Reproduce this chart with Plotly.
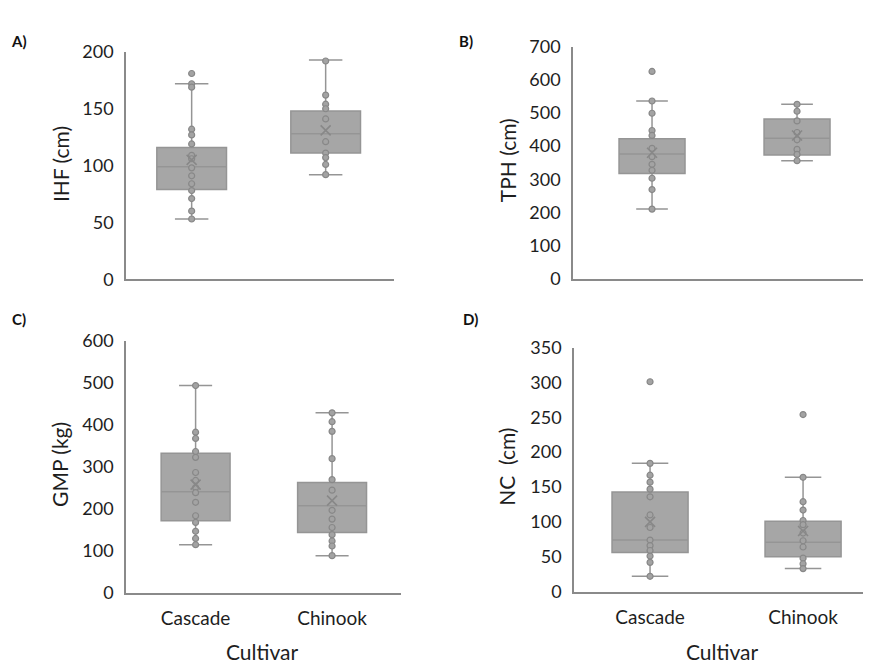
import plotly.graph_objects as go

W, H = 871, 671
OFF = 8  # page body margin shifts the figure by 8px right and down

cultivars = ["Cascade", "Chinook"]

# ---- Panel A: IHF (cm) ----
a_q1 = [79, 111]
a_med = [99, 128]
a_q3 = [116, 148]
a_lo = [53, 92]
a_hi = [172, 193]
a_mean = [105, 131]
a_pts_cascade = [181, 172, 169, 132, 127, 119, 109, 106, 98, 91, 84, 78, 71, 60, 53]
a_pts_chinook = [192, 162, 154, 150, 141, 121, 111, 107, 101, 92]

# ---- Panel B: TPH (cm) ----
b_q1 = [317, 373]
b_med = [376, 424]
b_q3 = [422, 482]
b_lo = [210, 356]
b_hi = [536, 526]
b_mean = [380, 432]
b_pts_cascade = [625, 536, 499, 447, 432, 393, 368, 345, 327, 303, 269, 210]
b_pts_chinook = [526, 505, 476, 441, 419, 390, 375, 356]

# ---- Panel C: GMP (kg) ----
c_q1 = [171, 143]
c_med = [240, 207]
c_q3 = [332, 262]
c_lo = [114, 88]
c_hi = [493, 428]
c_mean = [257, 219]
c_pts_cascade = [493, 382, 367, 336, 322, 286, 267, 250, 238, 215, 183, 167, 146, 129, 114]
c_pts_chinook = [428, 407, 384, 319, 269, 244, 196, 175, 155, 138, 123, 111, 88]

# ---- Panel D: NC (cm) ----
d_q1 = [56, 50]
d_med = [74, 71]
d_q3 = [143, 101]
d_lo = [22, 33]
d_hi = [184, 164]
d_mean = [100, 87]
d_pts_cascade = [301, 184, 167, 157, 147, 136, 110, 92, 74, 66, 59, 51, 42, 22]
d_pts_chinook = [254, 164, 129, 117, 102, 96, 84, 73, 64, 48, 40, 33]

y_titles = ["IHF (cm)", "TPH (cm)", "GMP (kg)", "NC  (cm)"]
panel_labels = ["A)", "B)", "C)", "D)"]
y_ranges = [[0, 200], [0, 700], [0, 600], [0, 350]]
y_dticks = [50, 100, 100, 50]
x_title = "Cultivar"

FONT = "Lato, 'Open Sans', sans-serif"
TXT = "#1e1e1e"
BOX_FILL = "#a6a6a6"
BOX_LINE = "#959595"
PT_FILL = "#a3a3a3"
PT_LINE = "#888888"
AXIS_COL = "#8a8a8a"


def px_x(p):
    return (p - OFF) / W


def px_y(p):
    return 1 - (p - OFF) / H


def xd(p0, p1):
    return [px_x(p0), min(1.0, px_x(p1))]


def yd(top, bottom):
    return [px_y(bottom), px_y(top)]


# panel geometry, in page pixels of the reference
panels = [
    dict(x=(126, 394), y=(41, 276), xr=[-0.49, 1.51], bw=0.52),
    dict(x=(573, 871), y=(35.5, 275.5), xr=[-0.545, 1.51], bw=0.455),
    dict(x=(126, 401), y=(339.5, 600), xr=[-0.51, 1.505], bw=0.505),
    dict(x=(574, 871), y=(346.7, 599), xr=[-0.497, 1.444], bw=0.497),
]

stats = [
    (a_q1, a_med, a_q3, a_lo, a_hi, a_mean, a_pts_cascade, a_pts_chinook),
    (b_q1, b_med, b_q3, b_lo, b_hi, b_mean, b_pts_cascade, b_pts_chinook),
    (c_q1, c_med, c_q3, c_lo, c_hi, c_mean, c_pts_cascade, c_pts_chinook),
    (d_q1, d_med, d_q3, d_lo, d_hi, d_mean, d_pts_cascade, d_pts_chinook),
]

fig = go.Figure()
layout = dict(
    width=W, height=H,
    margin=dict(l=0, r=0, t=0, b=0),
    paper_bgcolor="white", plot_bgcolor="white",
    showlegend=False,
    font=dict(family=FONT, color=TXT),
    annotations=[],
)

for i, (p, s) in enumerate(zip(panels, stats)):
    q1, med, q3, lo, hi, mean, pc, pk = s
    n = "" if i == 0 else str(i + 1)
    xa, ya = "x" + n, "y" + n
    # the right-hand panels reach the page edge; keep the same px scale
    x0p, x1p = p["x"]
    xr = list(p["xr"])
    if x1p - OFF > W:
        span = xr[1] - xr[0]
        xr[1] = xr[0] + span * (W + OFF - x0p) / (x1p - x0p)
        x1p = W + OFF
    fig.add_trace(go.Box(
        x=cultivars, q1=q1, median=med, q3=q3, lowerfence=lo, upperfence=hi,
        width=p["bw"], whiskerwidth=0.48,
        fillcolor=BOX_FILL, line=dict(color=BOX_LINE, width=1.5),
        boxpoints=False, xaxis=xa, yaxis=ya, hoverinfo="skip",
    ))
    for cat, pts in zip(cultivars, [pc, pk]):
        fig.add_trace(go.Scatter(
            x=[cat] * len(pts), y=pts, mode="markers",
            marker=dict(size=6, color=PT_FILL, line=dict(color=PT_LINE, width=1.2)),
            xaxis=xa, yaxis=ya, hoverinfo="skip",
        ))
    fig.add_trace(go.Scatter(
        x=cultivars, y=mean, mode="markers",
        marker=dict(symbol="x-thin", size=10, color=PT_LINE, line=dict(color=PT_LINE, width=1.6)),
        xaxis=xa, yaxis=ya, hoverinfo="skip",
    ))
    bottom_row = i >= 2
    layout["xaxis" + n] = dict(
        domain=xd(x0p, x1p), anchor=ya, type="category",
        range=xr, showgrid=False, zeroline=False,
        showline=True, linecolor=AXIS_COL, linewidth=1.5,
        showticklabels=bottom_row, ticks="outside", ticklen=8,
        tickcolor="rgba(0,0,0,0)", tickfont=dict(size=19, color=TXT),
        fixedrange=True,
    )
    layout["yaxis" + n] = dict(
        domain=yd(*p["y"]), anchor=xa, range=y_ranges[i],
        tickmode="linear", tick0=0, dtick=y_dticks[i],
        showgrid=False, zeroline=False,
        showline=True, linecolor=AXIS_COL, linewidth=1.5,
        ticks="outside", ticklen=7, tickcolor="rgba(0,0,0,0)",
        tickfont=dict(size=18, color=TXT), fixedrange=True,
    )

# y-axis titles
ytitle_pos = [(60, 157), (507, 153), (60, 468), (507, 470)]
for t, (px, py) in zip(y_titles, ytitle_pos):
    layout["annotations"].append(dict(
        text=t, x=px_x(px), y=px_y(py), xref="paper", yref="paper",
        showarrow=False, textangle=-90, xanchor="center", yanchor="middle",
        font=dict(size=21, color=TXT, family=FONT),
    ))

# panel labels
label_pos = [(19, 30), (466, 30), (19, 317), (470, 317)]
for t, (px, py) in zip(panel_labels, label_pos):
    layout["annotations"].append(dict(
        text="<b>" + t + "</b>", x=px_x(px), y=px_y(py), xref="paper", yref="paper",
        showarrow=False, xanchor="center", yanchor="middle",
        font=dict(size=15, color="#111111", family=FONT),
    ))

# x-axis titles
for px in (263, 722):
    layout["annotations"].append(dict(
        text=x_title, x=px_x(px), y=px_y(661), xref="paper", yref="paper",
        showarrow=False, xanchor="center", yanchor="middle",
        font=dict(size=21, color=TXT, family=FONT),
    ))

fig.update_layout(**layout)
fig.write_html("out.html")
